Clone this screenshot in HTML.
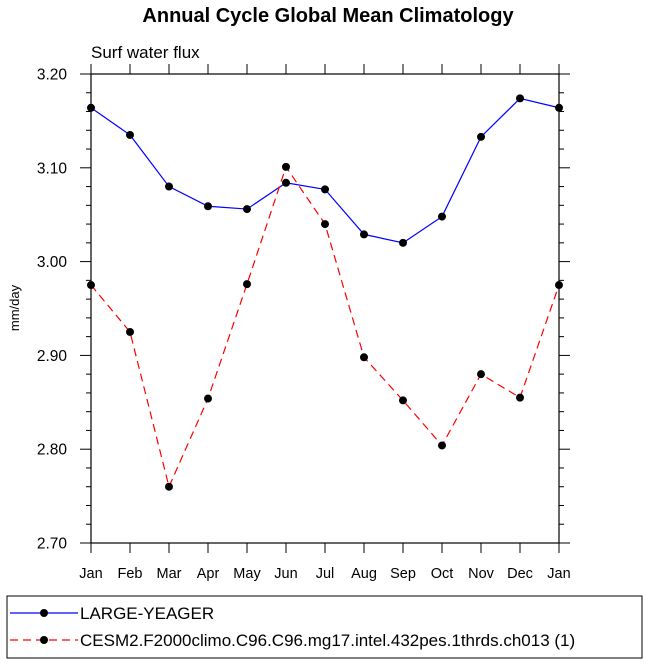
<!DOCTYPE html>
<html><head><meta charset="utf-8"><style>
body{margin:0;background:#fff;}
svg{font-family:"Liberation Sans",Helvetica,sans-serif;}
</style></head><body>
<svg id="chart" width="649" height="665">
<text x="328" y="22" text-anchor="middle" font-size="20" font-weight="bold">Annual Cycle Global Mean Climatology</text>
<text x="91" y="58" font-size="17">Surf water flux</text>
<text transform="translate(19,308) rotate(-90)" text-anchor="middle" font-size="13">mm/day</text>
<g id="axes"></g>
<g id="marks"></g>
<rect x="7" y="596" width="635" height="62" fill="none" stroke="#000" stroke-width="1"/>
<g>
<line x1="10" y1="613" x2="78" y2="613" stroke="#0000ff" stroke-width="1.2"/>
<circle cx="44" cy="613" r="4" fill="#000"/>
<text x="80" y="619" font-size="17">LARGE-YEAGER</text></g>
<g>
<line x1="10" y1="640" x2="78" y2="640" stroke="#ff0000" stroke-width="1.2" stroke-dasharray="8,5"/>
<circle cx="44" cy="640" r="4" fill="#000"/>
<text x="80" y="646" font-size="17">CESM2.F2000climo.C96.C96.mg17.intel.432pes.1thrds.ch013 (1)</text></g>
</svg>
<script>
const months=["Jan","Feb","Mar","Apr","May","Jun","Jul","Aug","Sep","Oct","Nov","Dec","Jan"];
const largeYeager=[3.164,3.135,3.080,3.059,3.056,3.084,3.077,3.029,3.020,3.048,3.133,3.174,3.164];
const cesm2=[2.975,2.925,2.760,2.854,2.976,3.101,3.040,2.898,2.852,2.804,2.880,2.855,2.975];
const yTicks=["2.70","2.80","2.90","3.00","3.10","3.20"];
const NS="http://www.w3.org/2000/svg";
const L=91,R=559,T=74,B=543,ymin=2.70,ymax=3.20;
const xs=i=>L+(R-L)*i/(months.length-1);
const ys=v=>B-(v-ymin)/(ymax-ymin)*(B-T);
function mk(tag,attrs,parent){const e=document.createElementNS(NS,tag);for(const k in attrs)e.setAttribute(k,attrs[k]);parent.appendChild(e);return e;}
const ax=document.getElementById('axes'),mg=document.getElementById('marks');
const fr=mk('rect',{x:L,y:T,width:R-L,height:B-T,fill:'none',stroke:'#000','stroke-width':1.2},ax);


months.forEach((m,i)=>{const x=xs(i);
 mk('line',{x1:x,y1:B,x2:x,y2:B+10,stroke:'#000'},ax);
 mk('line',{x1:x,y1:T,x2:x,y2:T-10,stroke:'#000'},ax);
 const t=mk('text',{x:x,y:B+35,'text-anchor':'middle','font-size':14.5},ax);t.textContent=m;
 
 
});
for(let v=0;v<=25;v++){const y=ys(ymin+v*0.02);const len=v%5===0?11:5;
 mk('line',{x1:L,y1:y,x2:L-len,y2:y,stroke:'#000'},ax);
 mk('line',{x1:R,y1:y,x2:R+len,y2:y,stroke:'#000'},ax);}
yTicks.forEach(s=>{const t=mk('text',{x:L-24,y:ys(+s)+5.5,'text-anchor':'end','font-size':15.5},ax);t.textContent=s;
 
 });
function series(data,color,dash,name){
 const p=mk('polyline',{points:data.map((v,i)=>xs(i)+','+ys(v)).join(' '),fill:'none',stroke:color,'stroke-width':1.2,'stroke-dasharray':dash},mg);
 
 
 data.forEach((v,i)=>{const c=mk('circle',{cx:xs(i),cy:ys(v),r:4,fill:'#000'},mg);
  
  });
}
series(largeYeager,'#0000ff','none','large-yeager');
series(cesm2,'#ff0000','8,5','cesm2');
</script>
</body></html>
